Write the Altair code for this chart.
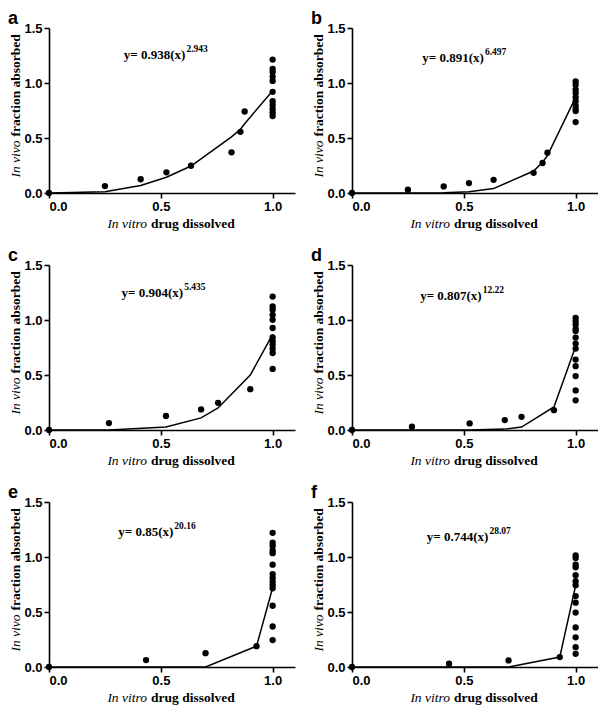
import altair as alt
import pandas as pd

# ---------------- data ----------------
letters = ["a", "b", "c", "d", "e", "f"]
eq_main = ["y= 0.938(x)", "y= 0.891(x)", "y= 0.904(x)", "y= 0.807(x)", "y= 0.85(x)", "y= 0.744(x)"]
eq_sup = ["2.943", "6.497", "5.435", "12.22", "20.16", "28.07"]
eq_x = [0.61, 0.59, 0.60, 0.58, 0.556, 0.61]
eq_y = [1.256, 1.224, 1.243, 1.22, 1.231, 1.185]

a_obs_x = [0, 0.25, 0.41, 0.525, 0.635, 0.816, 0.856, 0.875] + [1.0] * 11
a_obs_y = [0, 0.063, 0.125, 0.188, 0.248, 0.37, 0.556, 0.741,
           1.213, 1.129, 1.10, 1.058, 1.019, 0.92, 0.834, 0.80, 0.765, 0.735, 0.70]
a_fit_x = [0, 0.25, 0.41, 0.525, 0.635, 0.816, 0.856, 0.875, 1.0]
a_fit_y = [0, 0.012, 0.069, 0.143, 0.245, 0.51, 0.58, 0.63, 0.93]

b_obs_x = [0, 0.25, 0.41, 0.523, 0.633, 0.812, 0.852, 0.874] + [1.0] * 10
b_obs_y = [0, 0.03, 0.06, 0.09, 0.12, 0.183, 0.273, 0.366,
           1.015, 0.985, 0.94, 0.91, 0.87, 0.835, 0.795, 0.765, 0.745, 0.645]
b_fit_x = [0, 0.25, 0.41, 0.523, 0.633, 0.812, 0.852, 0.874, 1.0]
b_fit_y = [0, 0.0, 0.003, 0.012, 0.04, 0.2, 0.28, 0.34, 0.87]

c_obs_x = [0, 0.268, 0.523, 0.68, 0.756, 0.9] + [1.0] * 12
c_obs_y = [0, 0.063, 0.127, 0.187, 0.247, 0.371,
           1.213, 1.123, 1.093, 1.047, 1.002, 0.927, 0.842, 0.806, 0.776, 0.739, 0.70, 0.555]
c_fit_x = [0, 0.268, 0.523, 0.68, 0.756, 0.9, 1.0]
c_fit_y = [0, 0.001, 0.027, 0.11, 0.2, 0.5, 0.87]

d_obs_x = [0, 0.268, 0.526, 0.683, 0.758, 0.903] + [1.0] * 13
d_obs_y = [0, 0.03, 0.06, 0.09, 0.12, 0.18,
           1.02, 0.99, 0.96, 0.92, 0.9, 0.84, 0.786, 0.74, 0.64, 0.58, 0.49, 0.36, 0.27]
d_fit_x = [0, 0.268, 0.526, 0.683, 0.758, 0.903, 1.0]
d_fit_y = [0, 0.0, 0.0, 0.008, 0.027, 0.21, 0.76]

e_obs_x = [0, 0.434, 0.70, 0.928] + [1.0] * 14
e_obs_y = [0, 0.063, 0.126, 0.189,
           1.22, 1.13, 1.10, 1.06, 1.035, 0.93, 0.845, 0.81, 0.775, 0.745, 0.715, 0.557, 0.368, 0.245]
e_fit_x = [0, 0.434, 0.70, 0.928, 1.0]
e_fit_y = [0, 0.0, 0.0, 0.19, 0.72]

f_obs_x = [0, 0.434, 0.70, 0.929] + [1.0] * 14
f_obs_y = [0, 0.03, 0.06, 0.09,
           1.014, 0.99, 0.93, 0.906, 0.834, 0.78, 0.744, 0.645, 0.585, 0.495, 0.36, 0.27, 0.18, 0.12]
f_fit_x = [0, 0.434, 0.70, 0.929, 1.0]
f_fit_y = [0, 0.0, 0.0, 0.09, 0.74]

x_ticks = [0, 0.5, 1.0]
y_ticks = [0, 0.5, 1.0, 1.5]

W = 246
H = 165
SERIF = "'Times New Roman', 'Liberation Serif', serif"
SANS = "Arial, 'Liberation Sans', sans-serif"


def one(text):
    return pd.DataFrame({"t": [text]})


def panel(i, obs_x, obs_y, fit_x, fit_y):
    obs = pd.DataFrame({"x": obs_x, "y": obs_y})
    fit = pd.DataFrame({"x": fit_x, "y": fit_y})
    xs = alt.Scale(domain=[0, 1.1], nice=False, zero=True)
    ys = alt.Scale(domain=[0, 1.5], nice=False)
    xaxis = alt.Axis(values=x_ticks, format=".1f", title=None)
    yaxis = alt.Axis(values=y_ticks, format=".1f", title=None)

    line = alt.Chart(fit).mark_line(color="black", strokeWidth=1.5).encode(
        x=alt.X("x:Q", scale=xs, axis=xaxis),
        y=alt.Y("y:Q", scale=ys, axis=yaxis),
    )
    pts = alt.Chart(obs).mark_circle(color="black", opacity=1, size=40).encode(
        x="x:Q", y="y:Q"
    )
    eq1 = alt.Chart(one(eq_main[i])).mark_text(
        font=SERIF, fontWeight="bold", fontSize=13, align="right",
        baseline="middle", color="black"
    ).encode(text="t:N", x=alt.datum(eq_x[i]), y=alt.datum(eq_y[i]))
    eq2 = alt.Chart(one(eq_sup[i])).mark_text(
        font=SERIF, fontWeight="bold", fontSize=9.5, align="left",
        baseline="middle", color="black", dx=1, dy=-6
    ).encode(text="t:N", x=alt.datum(eq_x[i]), y=alt.datum(eq_y[i]))

    lab = alt.Chart(one(letters[i])).mark_text(
        font=SANS, fontWeight="bold", fontSize=18, align="left",
        baseline="middle", color="black"
    ).encode(text="t:N", x=alt.value(-41), y=alt.value(-9))

    ysplit = H / 2 + 30
    yt1 = alt.Chart(one("In vivo")).mark_text(
        font=SERIF, fontStyle="italic", fontSize=13.5, angle=270,
        align="right", baseline="middle", color="black"
    ).encode(text="t:N", x=alt.value(-33), y=alt.value(ysplit))
    yt2 = alt.Chart(one("fraction  absorbed")).mark_text(
        font=SERIF, fontWeight="bold", fontSize=13.5, angle=270,
        align="left", baseline="middle", color="black"
    ).encode(text="t:N", x=alt.value(-33), y=alt.value(ysplit - 4))

    xsplit = W / 2 - 25
    xt1 = alt.Chart(one("In vitro")).mark_text(
        font=SERIF, fontStyle="italic", fontSize=13.5,
        align="right", baseline="middle", color="black"
    ).encode(text="t:N", x=alt.value(xsplit), y=alt.value(H + 31))
    xt2 = alt.Chart(one("drug  dissolved")).mark_text(
        font=SERIF, fontWeight="bold", fontSize=13.5,
        align="left", baseline="middle", color="black"
    ).encode(text="t:N", x=alt.value(xsplit + 4), y=alt.value(H + 31))

    return alt.layer(line, pts, eq1, eq2, lab, yt1, yt2, xt1, xt2).properties(
        width=W, height=H
    )


pa = panel(0, a_obs_x, a_obs_y, a_fit_x, a_fit_y)
pb = panel(1, b_obs_x, b_obs_y, b_fit_x, b_fit_y)
pc = panel(2, c_obs_x, c_obs_y, c_fit_x, c_fit_y)
pd_ = panel(3, d_obs_x, d_obs_y, d_fit_x, d_fit_y)
pe = panel(4, e_obs_x, e_obs_y, e_fit_x, e_fit_y)
pf = panel(5, f_obs_x, f_obs_y, f_fit_x, f_fit_y)

chart = alt.vconcat(
    alt.hconcat(pa, pb, spacing=16),
    alt.hconcat(pc, pd_, spacing=16),
    alt.hconcat(pe, pf, spacing=16),
    spacing=16,
).properties(padding={"left": 0, "top": 2, "right": 0, "bottom": 0}).configure_view(
    stroke=None
).configure_axis(
    grid=False,
    domainColor="black",
    domainWidth=1.6,
    tickColor="black",
    tickWidth=1.6,
    tickSize=5,
    labelFont=SANS,
    labelFontWeight="bold",
    labelFontSize=13,
    labelColor="black",
    labelPadding=2,
)

chart.save("out.html", embed_options={"renderer": "svg", "actions": False})
